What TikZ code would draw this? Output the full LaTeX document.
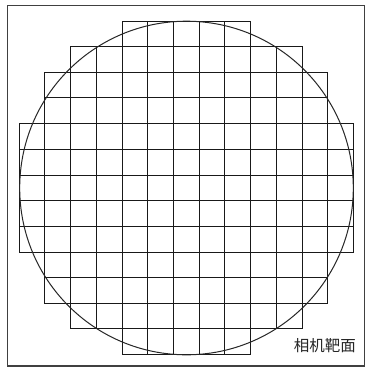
\documentclass[tikz,border=0pt]{standalone}
\usepackage{fontspec}
\newfontfamily\cjk{Noto Sans CJK SC}
\begin{document}
\begin{tikzpicture}[x=1pt,y=-1pt,
  gridline/.style={draw=black!90,line width=1.2pt},
  frameline/.style={draw=black!75,line width=1.4pt},
  circleline/.style={draw=black!85,line width=1pt}]
\useasboundingbox (0,0) rectangle (365,368);
\fill[white] (0,0) rectangle (365,368);
\draw[frameline] (7.5,5.5) rectangle (364.5,366);
\foreach \i/\v in {0/19.5,1/44.5,2/70.5,3/96.5,4/122.5,5/147.5,6/173.5,7/199.5,8/224.5,9/250.5,10/276.5,11/302.5,12/327.5,13/353.5}
  \coordinate (X\i) at (\v,0);
\foreach \i/\v in {0/21.5,1/46.5,2/72.5,3/97.5,4/123.5,5/149.5,6/175.5,7/200.5,8/226.5,9/252.5,10/277.5,11/303.5,12/328.5,13/354.5}
  \coordinate (Y\i) at (0,\v);
\foreach \r/\a/\b in {0/4/8,1/2/10,2/1/11,3/1/11,4/0/12,5/0/12,6/0/12,7/0/12,8/0/12,9/1/11,10/1/11,11/2/10,12/4/8}{
  \pgfmathtruncatemacro{\rn}{\r+1}
  \foreach \c in {\a,...,\b}{
    \pgfmathtruncatemacro{\cn}{\c+1}
    \draw[gridline] (X\c |- Y\r) rectangle (X\cn |- Y\rn);
  }
}
\draw[circleline] (186.5,188) circle [radius=166.8];
\node[font=\cjk\fontsize{15.5}{15.5}\selectfont,text=black!85,inner sep=0pt] (label) at (325,345.5) {相机靶面};
\end{tikzpicture}
\end{document}
